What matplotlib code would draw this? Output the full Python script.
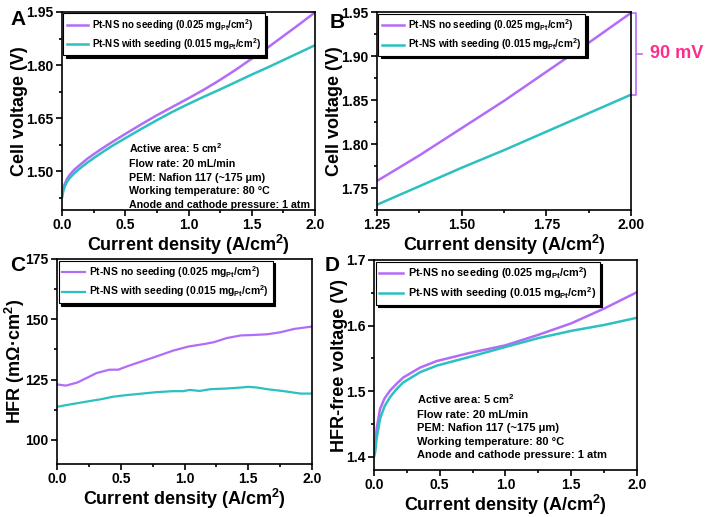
import numpy as np
import matplotlib.pyplot as plt
from matplotlib.ticker import MultipleLocator
import matplotlib.transforms as mtransforms

plt.rcParams['font.family'] = ['Liberation Sans', 'DejaVu Sans']
plt.rcParams['font.weight'] = 'bold'
plt.rcParams['axes.labelweight'] = 'bold'
plt.rcParams['mathtext.fontset'] = 'custom'
plt.rcParams['mathtext.rm'] = 'Liberation Sans:bold'
plt.rcParams['mathtext.bf'] = 'Liberation Sans:bold'
plt.rcParams['mathtext.default'] = 'rm'

PURPLE = '#b36cf7'
CYAN = '#2cc0c0'
PINK = '#ff2d8a'

# polarization curves (A, B)
j_pol = [0, 0.01, 0.02, 0.04, 0.06, 0.1, 0.15, 0.2, 0.3, 0.4, 0.5, 0.625, 0.75,
         0.875, 1.0, 1.125, 1.25, 1.375, 1.5, 1.625, 1.75, 1.875, 2.0]
v_no = [1.430, 1.450, 1.462, 1.478, 1.489, 1.505, 1.520, 1.535, 1.560, 1.583,
        1.605, 1.632, 1.658, 1.682, 1.706, 1.731, 1.758, 1.787, 1.818, 1.849,
        1.882, 1.915, 1.949]
v_seed = [1.425, 1.443, 1.455, 1.470, 1.480, 1.495, 1.510, 1.524, 1.549, 1.572,
          1.593, 1.619, 1.644, 1.668, 1.690, 1.711, 1.731, 1.752, 1.773, 1.793,
          1.814, 1.835, 1.856]

# HFR (C)
j_hfr_no = [0, 0.07, 0.16, 0.23, 0.31, 0.41, 0.48, 0.55, 0.65, 0.78, 0.91, 1.03,
            1.15, 1.23, 1.33, 1.44, 1.54, 1.65, 1.75, 1.86, 2.0]
hfr_no = [123.0, 122.5, 123.8, 125.6, 127.7, 129.1, 129.1, 130.5, 132.3, 134.6,
          137.0, 138.7, 139.7, 140.5, 142.2, 143.3, 143.5, 143.8, 144.6, 146.0, 147.0]
j_hfr_seed = [0, 0.07, 0.18, 0.28, 0.34, 0.44, 0.55, 0.65, 0.78, 0.91, 0.99, 1.04,
              1.12, 1.2, 1.33, 1.44, 1.5, 1.57, 1.65, 1.78, 1.91, 2.0]
hfr_seed = [113.7, 114.4, 115.4, 116.3, 116.8, 117.9, 118.6, 119.1, 119.8, 120.2,
            120.2, 120.7, 120.3, 121.0, 121.3, 121.7, 122.0, 121.7, 121.0, 120.2,
            119.2, 119.2]

# HFR-free voltage (D)
j_free = [0, 0.008, 0.02, 0.046, 0.08, 0.122, 0.17, 0.223, 0.35, 0.477, 0.73,
          1.0, 1.25, 1.5, 1.75, 2.0]
vf_no = [1.405, 1.412, 1.443, 1.473, 1.489, 1.501, 1.511, 1.521, 1.536, 1.546,
         1.5585, 1.570, 1.586, 1.6035, 1.626, 1.651]
vf_seed = [1.400, 1.406, 1.428, 1.458, 1.477, 1.491, 1.503, 1.5135, 1.529, 1.539,
           1.5525, 1.5675, 1.581, 1.592, 1.601, 1.612]

lab_no = r'Pt-NS no seeding (0.025 mg$_{\mathrm{Pt}}$/cm$^{2}$)'
lab_seed = r'Pt-NS with seeding (0.015 mg$_{\mathrm{Pt}}$/cm$^{2}$)'
conditions = ('Active area: 5 cm$^{2}$\nFlow rate: 20 mL/min\n'
              'PEM: Nafion 117 (~175 μm)\nWorking temperature: 80 °C\n'
              'Anode and cathode pressure: 1 atm')
xlab = 'Current density (A/cm$^{2}$)'

fig = plt.figure(figsize=(7.08, 5.17), dpi=100)
W, H = 708, 517


def make_ax(l, r, t, b):
    return fig.add_axes([l / W, 1 - b / H, (r - l) / W, (b - t) / H])


def style(ax, xmaj, ymaj):
    ax.xaxis.set_major_locator(MultipleLocator(xmaj))
    ax.xaxis.set_minor_locator(MultipleLocator(xmaj / 2))
    ax.yaxis.set_major_locator(MultipleLocator(ymaj))
    ax.yaxis.set_minor_locator(MultipleLocator(ymaj / 2))
    ax.tick_params(which='both', direction='out', width=1.2, labelsize=10,
                   top=False, right=False)
    ax.tick_params(which='major', length=4, pad=2)
    ax.tick_params(which='minor', length=2.5)
    for s in ax.spines.values():
        s.set_linewidth(1.2)
    ax.set_xlabel(xlab, fontsize=13, labelpad=0.3)


def legend(ax, fs):
    lg = ax.legend(loc='upper left', fontsize=fs, fancybox=False,
                   shadow={'color': 'black', 'alpha': 1}, handlelength=2.2,
                   handletextpad=0.4, borderpad=0.35, labelspacing=0.35,
                   borderaxespad=0.15, framealpha=1)
    lg.get_frame().set_edgecolor('black')
    lg.get_frame().set_linewidth(0.8)


axA = make_ax(62, 315, 12, 210)
axB = make_ax(377, 631, 12, 210)
axC = make_ax(57, 312, 259, 464)
axD = make_ax(374, 637, 260, 470)

# A
axA.plot(j_pol, v_no, color=PURPLE, lw=1.8, label=lab_no)
axA.plot(j_pol, v_seed, color=CYAN, lw=1.8, label=lab_seed)
axA.set_xlim(0, 2.0)
axA.set_ylim(1.39, 1.95)
axA.set_yticks([1.50, 1.65, 1.80, 1.95])
style(axA, 0.5, 0.15)
axA.yaxis.set_major_formatter('{x:.2f}')
axA.set_ylabel('Cell voltage (V)', fontsize=13, labelpad=-1)
legend(axA, 7)
axA.text(0.265, 0.345, conditions, transform=axA.transAxes, fontsize=7.7,
         linespacing=1.45, va='top')

# B
axB.plot(j_pol, v_no, color=PURPLE, lw=1.8, label=lab_no)
axB.plot(j_pol, v_seed, color=CYAN, lw=1.8, label=lab_seed)
axB.set_xlim(1.25, 2.0)
axB.set_ylim(1.725, 1.95)
style(axB, 0.25, 0.05)
axB.xaxis.set_major_formatter('{x:.2f}')
axB.yaxis.set_major_formatter('{x:.2f}')
axB.set_ylabel('Cell voltage (V)', fontsize=13, labelpad=-1)
legend(axB, 7.2)
tr = mtransforms.blended_transform_factory(axB.transAxes, axB.transData)
top, bot = v_no[-1], v_seed[-1]
axB.plot([1.0, 1.02, 1.02, 1.0], [top, top, bot, bot], transform=tr,
         clip_on=False, color=PURPLE, lw=1.2)
axB.plot([1.02, 1.045], [(top + bot) / 2] * 2, transform=tr, clip_on=False,
         color=PURPLE, lw=1.2)
axB.text(1.075, (top + bot) / 2, '90 mV', transform=tr, color=PINK,
         fontsize=13, va='center', ha='left')

# C
axC.plot(j_hfr_no, hfr_no, color=PURPLE, lw=1.6, label=lab_no)
axC.plot(j_hfr_seed, hfr_seed, color=CYAN, lw=1.6, label=lab_seed)
axC.set_xlim(0, 2.0)
axC.set_ylim(90, 175)
style(axC, 0.5, 25)
axC.set_ylabel('HFR (mΩ·cm$^{2}$)', fontsize=13, labelpad=-1)
legend(axC, 7.5)

# D
axD.plot(j_free, vf_no, color=PURPLE, lw=1.8, label=lab_no)
axD.plot(j_free, vf_seed, color=CYAN, lw=1.8, label=lab_seed)
axD.set_xlim(0, 2.0)
axD.set_ylim(1.38, 1.7)
style(axD, 0.5, 0.1)
axD.set_ylabel('HFR-free voltage (V)', fontsize=13, labelpad=-1)
legend(axD, 7.8)
axD.text(0.163, 0.37, conditions, transform=axD.transAxes, fontsize=8.0,
         linespacing=1.45, va='top')

for letter, x, y in [('A', 10, 10), ('B', 330, 13), ('C', 10, 256), ('D', 325, 256)]:
    fig.text(x / W, 1 - y / H, letter, fontsize=15, va='top', ha='left')

fig.savefig('out.png', dpi=100)
